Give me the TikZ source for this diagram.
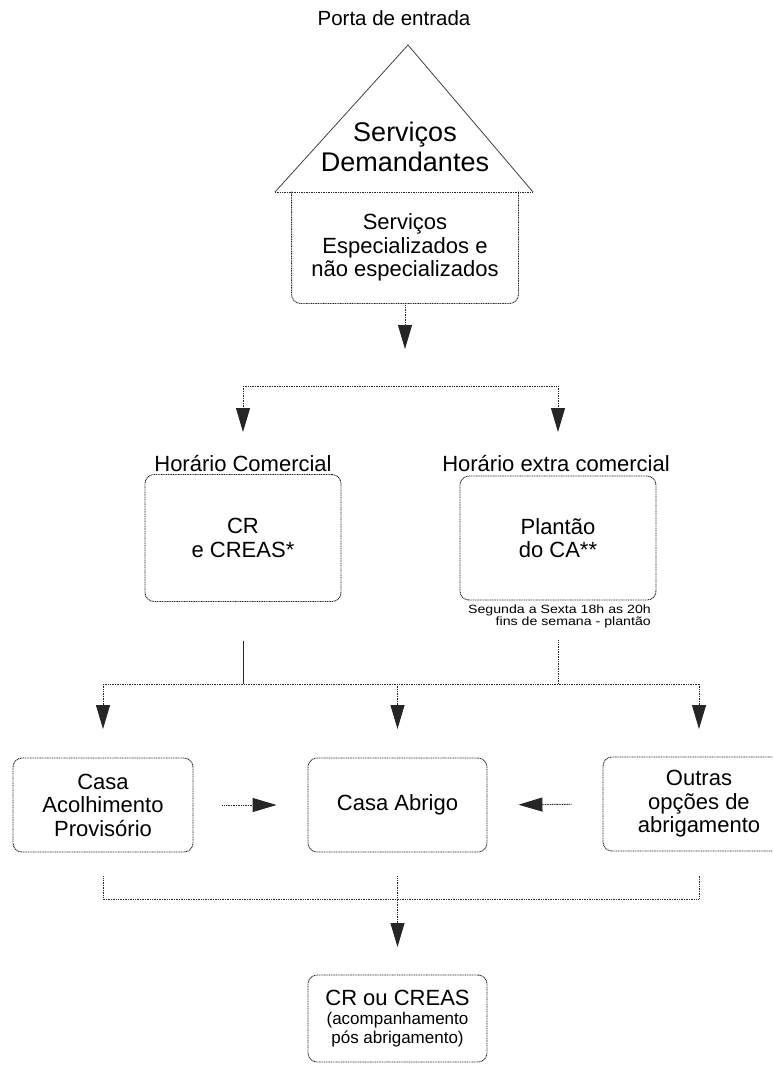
\documentclass[tikz,border=0pt]{standalone}
\usepackage{fontspec}
\setmainfont{Liberation Sans}
\usepackage{graphicx}
\usetikzlibrary{arrows.meta}
\begin{document}
\begin{tikzpicture}[x=1pt,y=-1pt,
  dotl/.style={draw=black!85, line width=0.9pt, dash pattern=on 1pt off 0.7pt},
  box/.style={dotl, rounded corners=9pt, align=center, inner sep=0pt, text=black,
              font=\fontsize{22}{23.5}\selectfont},
  arr/.style={-{Triangle[length=24pt,width=14pt]}},
  lbl/.style={font=\fontsize{22}{24}\selectfont, inner sep=0pt}]
\useasboundingbox (0,0) rectangle (773,1066);
\clip (0,0) rectangle (773,1066);
\fill[white] (0,0) rectangle (773,1066);

% top: porta + house
\node[lbl, font=\fontsize{20.5}{22}\selectfont] (porta) at (394,18) {Porta de entrada};
\coordinate (apex) at (408,45);
\coordinate (bl) at (275,192);
\coordinate (br) at (533,192);
\draw[black!75, line width=0.8pt] (bl) -- (apex) -- (br);
\draw[dotl] (bl) -- (br);
\node[align=center, inner sep=0pt, font=\fontsize{27}{30}\selectfont] (dem) at (405,147) {Serviços\\Demandantes};
\node[box, draw=none, minimum width=226pt, minimum height=111pt] (srv) at (405,247.5)
  {Serviços\\Especializados e\\não especializados};
\draw[dotl, rounded corners=9pt] (srv.north west) -- (srv.south west) -- (srv.south east) -- (srv.north east);

% first branch
\coordinate (a1) at (405,349);
\draw[dotl, arr] (srv.south) -- (a1);
\coordinate (hl) at (243,386);
\coordinate (hr) at (558,386);
\coordinate (t1) at (243,432);
\coordinate (t2) at (558,432);
\draw[dotl] (hl) -- (hr);
\draw[dotl, arr] (hl) -- (t1);
\draw[dotl, arr] (hr) -- (t2);

\node[lbl] (hc) at (243,463) {Horário Comercial};
\node[lbl] (hx) at (556,463) {Horário extra comercial};
\node[box, minimum width=196pt, minimum height=127pt] (cr) at (243,538) {CR\\e CREAS*};
\node[box, minimum width=196pt, minimum height=124pt] (pl) at (558,538) {Plantão\\do CA**};
\node[anchor=north east, align=right, inner sep=0pt, font=\fontsize{12}{12}\selectfont] (seg) at (651,605)
  {\scalebox{1.18}[1]{Segunda a Sexta 18h as 20h}\\\scalebox{1.18}[1]{fins de semana - plantão}};

% second branch
\coordinate (m1) at (243,684);
\coordinate (m2) at (558,684);
\coordinate (L) at (103,684);
\coordinate (R) at (699,684);
\coordinate (C) at (397.5,684);
\coordinate (tL) at (103,729);
\coordinate (tR) at (699,729);
\coordinate (tC) at (397.5,729);
\draw[black!85, line width=0.9pt, shorten <=39pt] (cr.south) -- (m1);
\draw[dotl, shorten <=40pt] (pl.south) -- (m2);
\draw[dotl] (L) -- (R);
\draw[dotl, arr] (L) -- (tL);
\draw[dotl, arr] (C) -- (tC);
\draw[dotl, arr] (R) -- (tR);

\node[box, minimum width=180pt, minimum height=94pt] (cap) at (103,805) {Casa\\Acolhimento\\Provisório};
\node[box, minimum width=179pt, minimum height=94pt] (ab) at (397.5,805) {Casa Abrigo};
\node[box, minimum width=192pt, minimum height=94pt] (out) at (699,804) {Outras\\opções de\\abrigamento};
\draw[dotl, arr, shorten <=29pt, shorten >=31pt] (cap.east) -- (ab.west);
\draw[dotl, arr, shorten <=31pt, shorten >=31pt] (out.west) -- (ab.east);

% bottom bracket
\coordinate (bL) at (103,899);
\coordinate (bR) at (699,899);
\coordinate (tF) at (397.5,947);
\draw[dotl, shorten <=24pt, shorten >=24pt] (cap.south) -- (bL) -- (bR) -- (out.south);
\draw[dotl, arr, shorten <=24pt] (ab.south) -- (tF);

\node[box, minimum width=179pt, minimum height=87pt, font=\fontsize{17}{19}\selectfont] (fin) at (397.5,1018.5)
  {{\fontsize{22}{22}\selectfont CR ou CREAS}\\(acompanhamento\\pós abrigamento)};
\end{tikzpicture}
\end{document}
